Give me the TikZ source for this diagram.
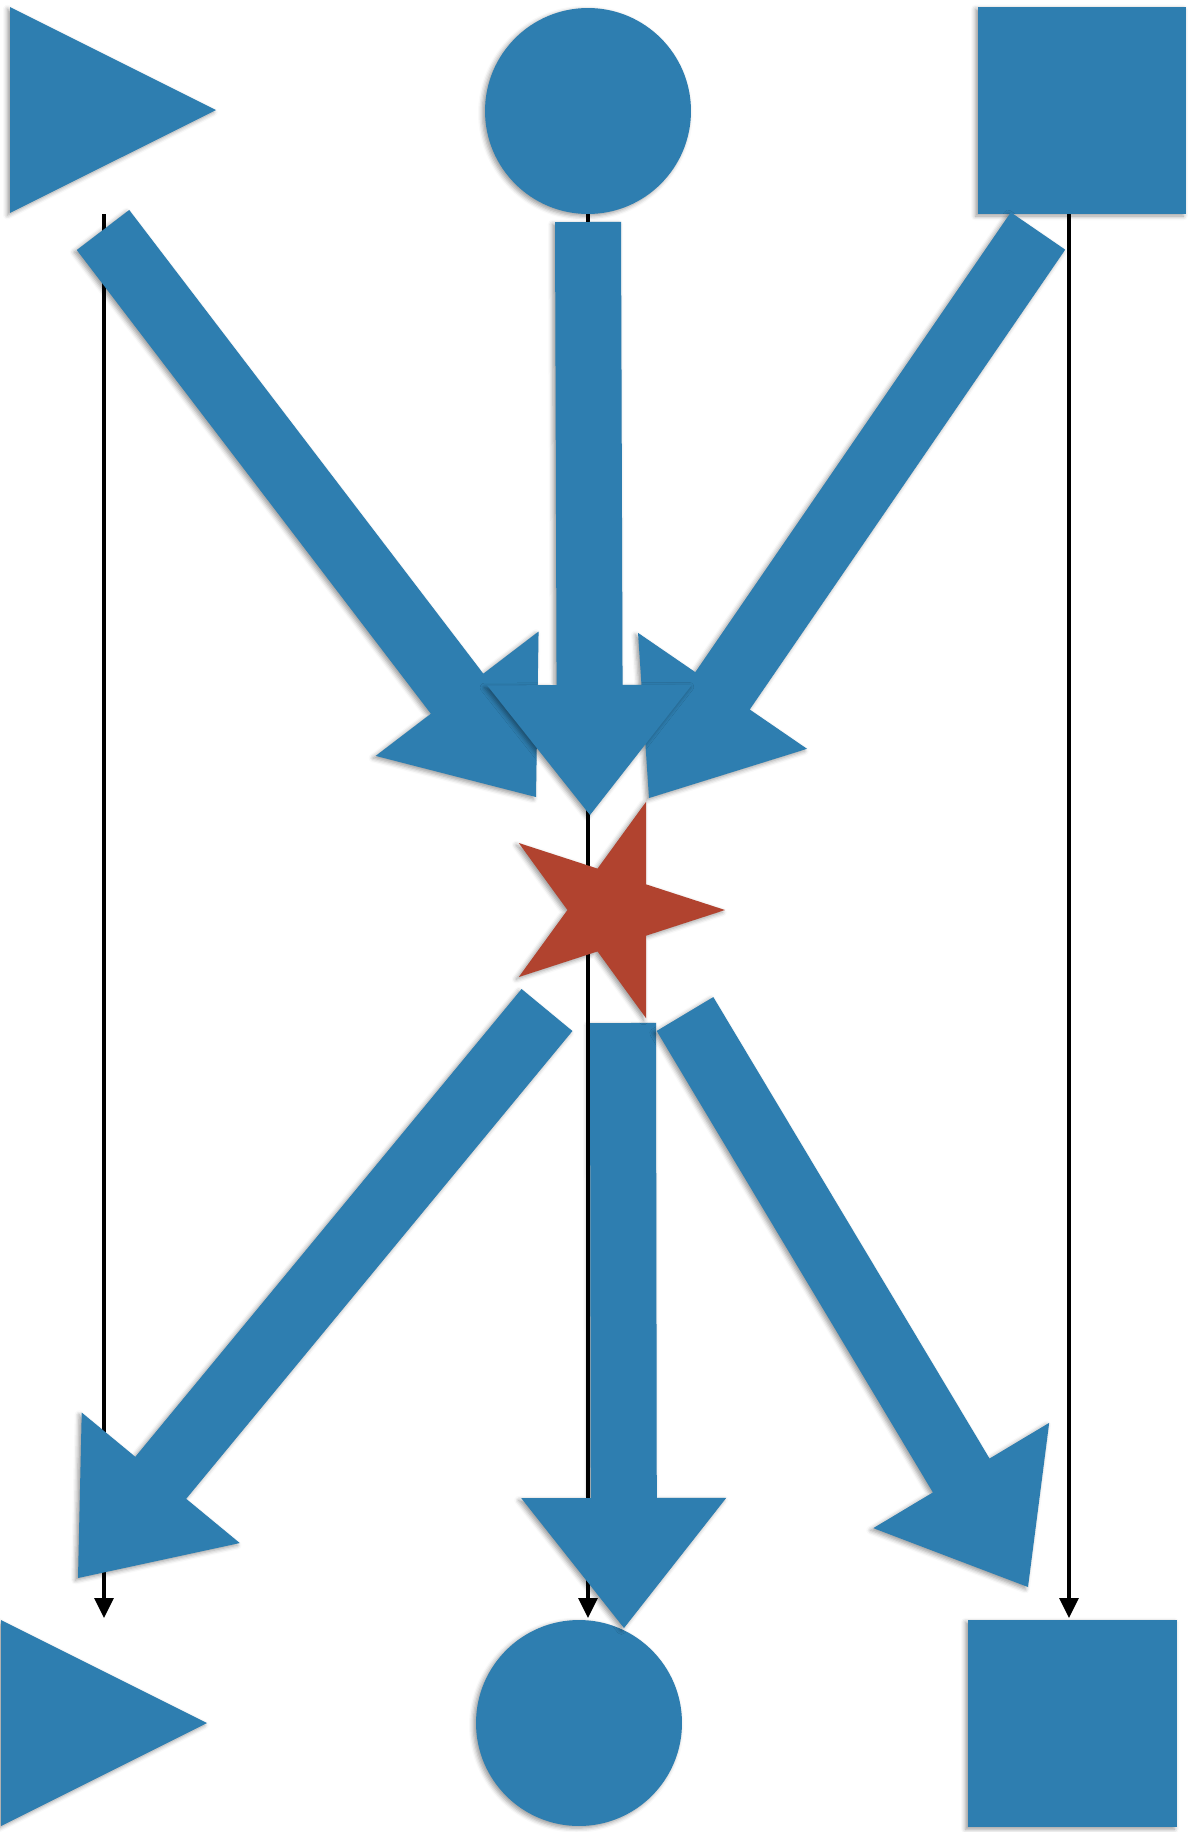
\documentclass[tikz,border=0pt]{standalone}
\usepackage{tikz}
\usetikzlibrary{arrows.meta, calc, shapes.geometric, shadows.blur}

\definecolor{feltblue}{RGB}{46,126,176}
\definecolor{feltred}{RGB}{177,67,47}
\newcommand\halfshaft{0.66cm}
\newcommand\halfhead{2.05cm}
\newcommand\headlen{2.6cm}

\begin{document}
\begin{tikzpicture}[x=0.02cm, y=-0.02cm,
  felt/.style={fill=feltblue, draw=none,
    blur shadow={shadow xshift=-1.5pt, shadow yshift=-1.2pt, shadow blur radius=2.5pt, shadow opacity=40}},
  piece/.style={felt, inner sep=0pt, outer sep=0pt},
  link/.style={line width=1.85pt, -{Triangle[length=0.4cm, width=0.38cm]}},
  fat/.style={to path={
    ($(\tikztostart)!\halfshaft!90:(\tikztotarget)$)
    -- ($(\tikztotarget)!\headlen!(\tikztostart)!\halfshaft!90:(\tikztotarget)$)
    -- ($(\tikztotarget)!\headlen!(\tikztostart)!\halfhead!90:(\tikztotarget)$)
    -- (\tikztotarget)
    -- ($(\tikztotarget)!\headlen!(\tikztostart)!\halfhead!-90:(\tikztotarget)$)
    -- ($(\tikztotarget)!\headlen!(\tikztostart)!\halfshaft!-90:(\tikztotarget)$)
    -- ($(\tikztostart)!\halfshaft!-90:(\tikztotarget)$) -- cycle}}]

  \useasboundingbox (0,0) rectangle (1192,1832);

  % top row
  \node[piece, isosceles triangle, isosceles triangle apex angle=53.13,
        minimum width=4.12cm, minimum height=4.12cm, anchor=apex] (tl) at (216,110) {};
  \node[piece, circle, minimum size=4.12cm] (tc) at (588,111) {};
  \node[piece, rectangle, minimum width=4.16cm, minimum height=4.14cm] (tr) at (1082,110.5) {};

  % bottom row
  \node[piece, isosceles triangle, isosceles triangle apex angle=53.13,
        minimum width=4.12cm, minimum height=4.12cm, anchor=apex] (bl) at (207,1723) {};
  \node[piece, circle, minimum size=4.12cm] (bc) at (579,1723) {};
  \node[piece, rectangle, minimum width=4.18cm, minimum height=4.14cm] (br) at (1072.5,1723.5) {};

  % thin arrows
  \coordinate (l1) at (104,214);  \coordinate (m1) at (104,1618);
  \coordinate (l2) at (588,214);  \coordinate (m2) at (588,1618);
  \coordinate (l3) at (1069,214); \coordinate (m3) at (1069,1618);
  \draw[link] (l1) -- (m1);
  \draw[link] (l2) -- (m2);
  \draw[link] (l3) -- (m3);

  % big arrows in
  \coordinate (t1) at (103,230);    \coordinate (h1) at (536,797);
  \coordinate (t2) at (588,222);    \coordinate (h2) at (590,815);
  \coordinate (t3) at (1038,231);   \coordinate (h3) at (649,798);
  \path[felt] (t1) to[fat] (h1);
  \path[felt] (t3) to[fat] (h3);
  \path[felt] (t2) to[fat] (h2);

  % big arrows out
  \coordinate (t4) at (547,1010);   \coordinate (h4) at (78,1578);
  \coordinate (t5) at (623,1023);   \coordinate (h5) at (624,1628);
  \coordinate (t6) at (685,1014);   \coordinate (h6) at (1028,1587);
  \path[felt] (t4) to[fat] (h4);
  \path[felt] (t5) to[fat] (h5);
  \path[felt] (t6) to[fat] (h6);

  % centre
  \node[piece, fill=feltred, star, star points=5, star point ratio=2.618,
        shape border rotate=-18, minimum size=4.56cm] (st) at (611,910) {};
\end{tikzpicture}
\end{document}
